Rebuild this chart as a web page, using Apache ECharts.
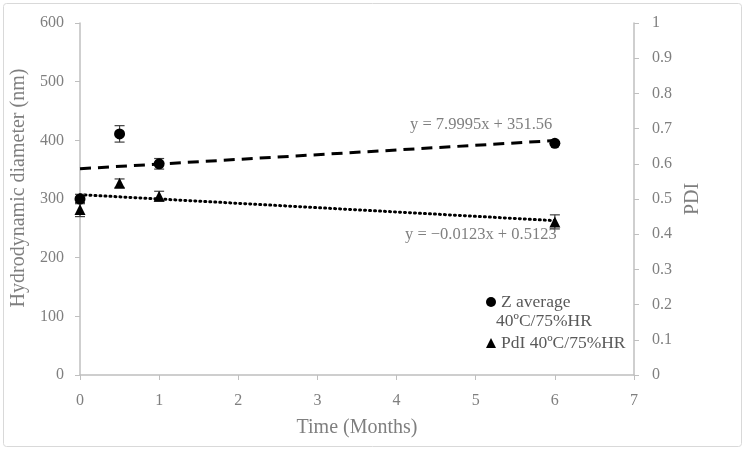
<!DOCTYPE html>
<html><head><meta charset="utf-8">
<script src="https://cdn.jsdelivr.net/npm/echarts@6/dist/echarts.min.js"></script>
<style>html,body{margin:0;padding:0;background:#fff}#c{width:746px;height:451px}</style>
</head><body><div id="c"></div>
<script>
var months = [0, 0.5, 1, 6];
var zAverage = [300, 411, 360, 395];
var zError = [8, 14, 9, 3];
var pdi = [0.47, 0.545, 0.508, 0.435];
var pdiError = [0.02, 0.012, 0.014, 0.02];
var zTrend = [[0, 351.56], [6, 399.56]];
var pdiTrend = [[0, 0.5123], [6, 0.4385]];
var xTicks = [0, 1, 2, 3, 4, 5, 6, 7];
var leftTicks = [0, 100, 200, 300, 400, 500, 600];
var rightTicks = [0, 0.1, 0.2, 0.3, 0.4, 0.5, 0.6, 0.7, 0.8, 0.9, 1];
var zName = 'Z average 40ºC/75%HR';
var pdiName = 'PdI 40ºC/75%HR';

var FONT = '"Liberation Serif", "DejaVu Serif", serif';
var GRAY = '#7f7f7f';
var AX = '#bfbfbf';

function errSeries(vals, errs, yIdx) {
  return {
    type: 'custom', yAxisIndex: yIdx, silent: true, z: 3,
    data: months.map(function (m, i) { return [m, vals[i] - errs[i], vals[i] + errs[i]]; }),
    renderItem: function (params, api) {
      var lo = api.coord([api.value(0), api.value(1)]);
      var hi = api.coord([api.value(0), api.value(2)]);
      var w = 5;
      var st = { stroke: '#404040', lineWidth: 1.2 };
      return { type: 'group', children: [
        { type: 'line', shape: { x1: lo[0], y1: lo[1], x2: hi[0], y2: hi[1] }, style: st },
        { type: 'line', shape: { x1: lo[0] - w, y1: lo[1], x2: lo[0] + w, y2: lo[1] }, style: st },
        { type: 'line', shape: { x1: hi[0] - w, y1: hi[1], x2: hi[0] + w, y2: hi[1] }, style: st }
      ]};
    }
  };
}

var chart = echarts.init(document.getElementById('c'));
chart.setOption({
  animation: false,
  textStyle: { fontFamily: FONT },
  grid: { left: 80, right: 112, top: 23, bottom: 76 },
  xAxis: {
    type: 'value', min: 0, max: 7, interval: 1,
    name: 'Time (Months)', nameLocation: 'middle', nameGap: 43,
    nameTextStyle: { color: GRAY, fontSize: 20, fontFamily: FONT },
    axisLine: { show: true, lineStyle: { color: AX, width: 1.5 } },
    axisTick: { show: true, inside: false, length: 5, lineStyle: { color: AX } },
    axisLabel: { color: GRAY, fontSize: 16, margin: 18, fontFamily: FONT,
      formatter: function (v) { return xTicks.indexOf(v) >= 0 ? String(v) : ''; } },
    splitLine: { show: false }
  },
  yAxis: [{
    type: 'value', min: 0, max: 600, interval: 100, position: 'left',
    name: 'Hydrodynamic diameter (nm)', nameLocation: 'middle', nameGap: 44, nameRotate: 90,
    nameTextStyle: { color: GRAY, fontSize: 20, fontFamily: FONT, padding: [0, 0, 0, 22] },
    axisLine: { show: true, lineStyle: { color: AX, width: 1.5 } },
    axisTick: { show: true, length: 5, lineStyle: { color: AX } },
    axisLabel: { color: GRAY, fontSize: 16, margin: 16, fontFamily: FONT,
      formatter: function (v) { return leftTicks.indexOf(v) >= 0 ? String(v) : ''; } },
    splitLine: { show: false }
  }, {
    type: 'value', min: 0, max: 1, interval: 0.1, position: 'right',
    name: 'PDI', nameLocation: 'middle', nameGap: 48, nameRotate: 90,
    nameTextStyle: { color: GRAY, fontSize: 20, fontFamily: FONT },
    axisLine: { show: true, lineStyle: { color: AX, width: 1.5 } },
    axisTick: { show: true, length: 5, lineStyle: { color: AX } },
    axisLabel: { color: GRAY, fontSize: 16, margin: 18, fontFamily: FONT,
      formatter: function (v) { var r = Math.round(v * 10) / 10; return rightTicks.indexOf(r) >= 0 ? String(r) : ''; } },
    splitLine: { show: false }
  }],
  legend: {
    orient: 'vertical', left: 481, top: 288, itemGap: 23, itemWidth: 10, itemHeight: 10,
    textStyle: { color: '#595959', fontSize: 17.5, fontFamily: FONT },
    formatter: function (n) { return n === zName ? 'Z average' : n; },
    data: [
      { name: zName, icon: 'circle', itemStyle: { color: '#000', opacity: 1 } },
      { name: pdiName, icon: 'triangle', itemStyle: { color: '#000', opacity: 1 } }
    ]
  },
  graphic: [
    { type: 'rect', shape: { x: 3.5, y: 3.5, width: 738, height: 443, r: 3 },
      style: { fill: 'none', stroke: '#d9d9d9', lineWidth: 1 }, z: -1 },
    { type: 'text', left: 496, top: 312,
      style: { text: '40ºC/75%HR', fill: '#595959', font: '17.5px ' + FONT } },
    { type: 'text', left: 410, top: 116,
      style: { text: 'y = 7.9995x + 351.56', fill: GRAY, font: '16.5px ' + FONT } },
    { type: 'text', left: 405, top: 226,
      style: { text: 'y = −0.0123x + 0.5123', fill: GRAY, font: '16.5px ' + FONT } }
  ],
  series: [
    { name: 'Z trend', type: 'line', yAxisIndex: 0, data: zTrend, symbol: 'none', silent: true,
      lineStyle: { color: '#000', width: 3, type: [11, 7] }, z: 1 },
    { name: 'PdI trend', type: 'line', yAxisIndex: 1, data: pdiTrend, symbol: 'none', silent: true,
      lineStyle: { color: '#000', width: 3, type: [1, 4], cap: 'round' }, z: 1 },
    errSeries(zAverage, zError, 0),
    errSeries(pdi, pdiError, 1),
    { name: zName, type: 'scatter', yAxisIndex: 0, symbol: 'circle', symbolSize: 11,
      itemStyle: { color: '#000', opacity: 1 }, data: months.map(function (m, i) { return [m, zAverage[i]]; }), z: 4 },
    { name: pdiName, type: 'scatter', yAxisIndex: 1, symbol: 'triangle', symbolSize: 11,
      itemStyle: { color: '#000', opacity: 1 }, data: months.map(function (m, i) { return [m, pdi[i]]; }), z: 4 }
  ]
});
</script></body></html>
